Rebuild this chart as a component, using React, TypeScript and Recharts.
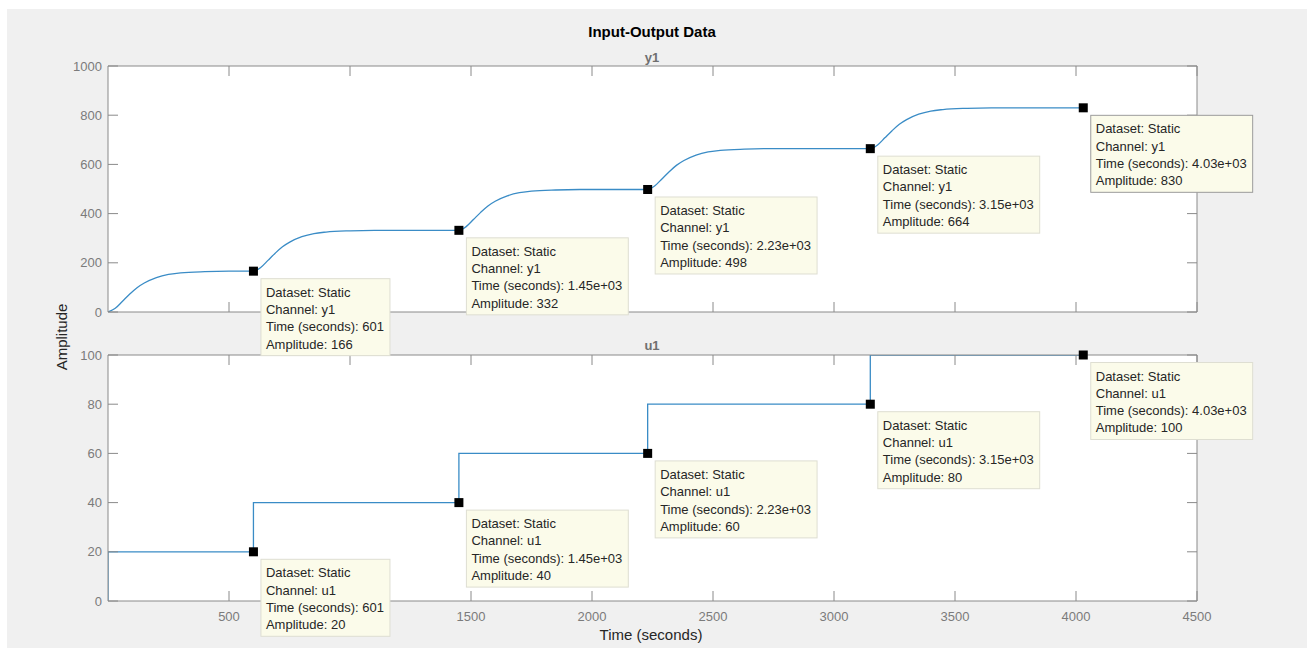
import React from "react";
import { LineChart, Line, XAxis, YAxis, CartesianGrid, ReferenceDot } from "recharts";

const W = 1307;
const H = 648;
const FONT = '"Liberation Sans", Arial, Helvetica, sans-serif';
const AXIS = "#8a8a8a";
const TICK_TEXT = "#7b7b7b";
const LINE = "#3a8cc6";

// output y1
const y1Times = [
  0, 30, 60, 90, 120, 150, 200, 250, 300, 400, 500, 601,
  631, 661, 691, 721, 751, 801, 851, 901, 1001, 1101, 1450,
  1480, 1510, 1540, 1570, 1600, 1650, 1700, 1750, 1850, 1950, 2230,
  2260, 2290, 2320, 2350, 2380, 2430, 2480, 2530, 2630, 2730, 3150,
  3180, 3210, 3240, 3270, 3300, 3350, 3400, 3450, 3550, 3650, 4030,
];
const y1Values = [
  0, 15, 44, 73, 99, 118, 140, 153, 159, 164, 166, 166,
  181, 210, 239, 265, 284, 306, 319, 325, 330, 332, 332,
  347, 376, 405, 431, 450, 472, 485, 491, 496, 498, 498,
  513, 542, 571, 597, 616, 638, 651, 657, 662, 664, 664,
  679, 708, 737, 763, 782, 804, 817, 823, 828, 830, 830,
];

// input u1 (staircase, level holds from each time)
const u1Times = [0, 0, 601, 1450, 2230, 3150, 4030];
const u1Values = [0, 20, 40, 60, 80, 100, 100];

// data tips
const tipTimes = [601, 1450, 2230, 3150, 4030];
const tipTimeLabels = ["601", "1.45e+03", "2.23e+03", "3.15e+03", "4.03e+03"];
const y1TipValues = [166, 332, 498, 664, 830];
const u1TipValues = [20, 40, 60, 80, 100];

const xTicks = [500, 1000, 1500, 2000, 2500, 3000, 3500, 4000, 4500];
const xHiddenLabels = [1000]; // sits under the first u1 data tip
const y1Ticks = [0, 200, 400, 600, 800, 1000];
const u1Ticks = [0, 20, 40, 60, 80, 100];

const y1Data = y1Times.map((t, i) => ({ t, y: y1Values[i] }));
const u1Data = u1Times.map((t, i) => ({ t, u: u1Values[i] }));

let ctx: CanvasRenderingContext2D | null = null;
const measure = (s: string) => {
  if (!ctx) ctx = document.createElement("canvas").getContext("2d");
  if (!ctx) return s.length * 7;
  ctx.font = `13px ${FONT}`;
  return ctx.measureText(s).width;
};

const tipShape = (lines: string[], dark: boolean) => (props: any) => {
  const { cx, cy } = props;
  const bx = cx + 7.5;
  const by = cy + 7.5;
  const bw = Math.max(...lines.map(measure)) + 11;
  const bh = 77;
  return (
    <g>
      <rect x={bx} y={by} width={bw} height={bh} fill="#fbfbea" stroke={dark ? "#9c9c9c" : "#deded2"} />
      {lines.map((s, i) => (
        <text key={i} x={bx + 5} y={by + 18 + i * 17.3} fontSize={13} fontFamily={FONT} fill="#262626">
          {s}
        </text>
      ))}
      <rect x={cx - 4.5} y={cy - 4.5} width={9} height={9} fill="#000" />
    </g>
  );
};

const tickStyle = { fill: TICK_TEXT, fontSize: 13, fontFamily: FONT };
const blank = () => "";
const xLabel = (v: number) => (xHiddenLabels.includes(v) ? "" : String(v));

function Panel({ data, dataKey, top, bottom, yTicks, yMax, channel, tipValues, showX, z }: any) {
  const bottomAxisH = showX ? 30 : 1;
  return (
    <div style={{ position: "absolute", left: 0, top: 0, zIndex: z }}>
      <LineChart
        width={W}
        height={H}
        data={data}
        style={{ overflow: "visible" }}
        margin={{ top: top - 1, right: W - 1197 - 1, bottom: H - bottom - bottomAxisH, left: 108 - 60 }}
      >
        <CartesianGrid horizontal={false} vertical={false} fill="#ffffff" />
        <XAxis
          xAxisId="b"
          dataKey="t"
          type="number"
          domain={[0, 4500]}
          ticks={xTicks}
          interval={0}
          allowDataOverflow
          height={bottomAxisH}
          tickSize={-10}
          tickMargin={21}
          stroke={AXIS}
          tick={tickStyle}
          tickFormatter={showX ? xLabel : blank}
        />
        <XAxis
          xAxisId="t"
          orientation="top"
          dataKey="t"
          type="number"
          domain={[0, 4500]}
          ticks={xTicks}
          interval={0}
          allowDataOverflow
          height={1}
          tickSize={-10}
          stroke={AXIS}
          tick={tickStyle}
          tickFormatter={blank}
        />
        <YAxis
          yAxisId="l"
          type="number"
          domain={[0, yMax]}
          ticks={yTicks}
          interval={0}
          allowDataOverflow
          width={60}
          tickSize={-10}
          tickMargin={16}
          stroke={AXIS}
          tick={tickStyle}
        />
        <YAxis
          yAxisId="r"
          orientation="right"
          type="number"
          domain={[0, yMax]}
          ticks={yTicks}
          interval={0}
          allowDataOverflow
          width={1}
          tickSize={-10}
          stroke={AXIS}
          tick={tickStyle}
          tickFormatter={blank}
        />
        <Line
          xAxisId="b"
          yAxisId="l"
          dataKey={dataKey}
          type={dataKey === "u" ? "stepAfter" : "monotone"}
          stroke={LINE}
          strokeWidth={1.3}
          dot={false}
          isAnimationActive={false}
        />
        {tipTimes.map((t, i) => (
          <ReferenceDot
            key={t}
            xAxisId="b"
            yAxisId="l"
            x={t}
            y={tipValues[i]}
            r={4}
            zIndex={2000}
            shape={tipShape(
              [
                "Dataset: Static",
                `Channel: ${channel}`,
                `Time (seconds): ${tipTimeLabels[i]}`,
                `Amplitude: ${tipValues[i]}`,
              ],
              channel === "y1" && i === tipTimes.length - 1
            )}
          />
        ))}
      </LineChart>
    </div>
  );
}

const label = (text: string, x: number, y: number, extra: React.CSSProperties = {}) => (
  <div
    style={{
      position: "absolute",
      left: x,
      top: y,
      transform: "translate(-50%, -50%)",
      whiteSpace: "nowrap",
      lineHeight: 1,
      fontFamily: FONT,
      zIndex: 5,
      ...extra,
    }}
  >
    {text}
  </div>
);

export default function App() {
  return (
    <div style={{ position: "absolute", left: 0, top: 0, width: W, height: H, background: "#fff", overflow: "hidden" }}>
      <div style={{ position: "absolute", left: 7, top: 9, right: 0, bottom: 0, background: "#f0f0f0" }} />
      <Panel data={u1Data} dataKey="u" top={355} bottom={601} yTicks={u1Ticks} yMax={100} channel="u1" tipValues={u1TipValues} showX z={1} />
      <Panel data={y1Data} dataKey="y" top={66} bottom={312} yTicks={y1Ticks} yMax={1000} channel="y1" tipValues={y1TipValues} showX={false} z={2} />
      {label("Input-Output Data", 652, 31, { fontSize: 15, fontWeight: "bold", color: "#000" })}
      {label("y1", 652, 57, { fontSize: 13, fontWeight: "bold", color: "#6f6f6f" })}
      {label("u1", 652, 345, { fontSize: 13, fontWeight: "bold", color: "#6f6f6f" })}
      {label("Time (seconds)", 651, 634, { fontSize: 15, color: "#262626" })}
      {label("Amplitude", 61, 337, { fontSize: 15, color: "#262626", transform: "translate(-50%, -50%) rotate(-90deg)" })}
    </div>
  );
}
